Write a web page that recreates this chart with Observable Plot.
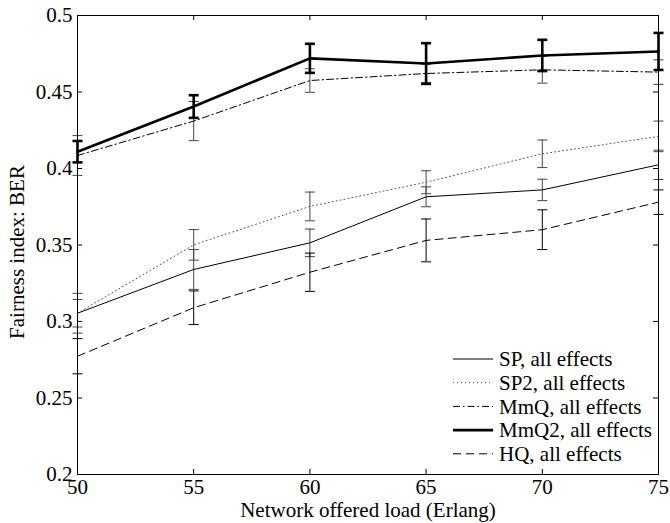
<!DOCTYPE html>
<html>
<head>
<meta charset="utf-8">
<script src="https://cdn.jsdelivr.net/npm/d3@7"></script>
<script src="https://cdn.jsdelivr.net/npm/@observablehq/plot@0.6"></script>
<style>
  html, body { margin: 0; padding: 0; background: #fff; }
  #chart { position: relative; width: 670px; height: 523px; background: #fff; }
  #legend { position: absolute; left: 0; top: 0; pointer-events: none; }
</style>
</head>
<body>
<div id="chart"></div>
<script>
// ---- data ----
const xLoad   = [50, 55, 60, 65, 70, 75];
const sp      = [0.3054, 0.3340, 0.3514, 0.3815, 0.3860, 0.4024];
const spErr   = [0.0130, 0.0130, 0.0090, 0.0065, 0.0070, 0.0096];
const sp2     = [0.3054, 0.3501, 0.3752, 0.3910, 0.4096, 0.4210];
const sp2Err  = [0.0090, 0.0100, 0.0094, 0.0075, 0.0090, 0.0100];
const mmq     = [0.4085, 0.4310, 0.4575, 0.4621, 0.4645, 0.4630];
const mmqErr  = [0.0130, 0.0128, 0.0077, 0.0060, 0.0087, 0.0080];
const mmq2    = [0.4110, 0.4405, 0.4720, 0.4686, 0.4739, 0.4765];
const mmq2Err = [0.0070, 0.0074, 0.0095, 0.0133, 0.0102, 0.0121];
const hq      = [0.2773, 0.3090, 0.3322, 0.3530, 0.3600, 0.3780];
const hqErr   = [0.0115, 0.0110, 0.0125, 0.0140, 0.0130, 0.0080];
const seriesNames = ["SP, all effects", "SP2, all effects", "MmQ, all effects", "MmQ2, all effects", "HQ, all effects"];
const xTicks = [50, 55, 60, 65, 70, 75];
const yTicks = [0.2, 0.25, 0.3, 0.35, 0.4, 0.45, 0.5];
const xLabel = "Network offered load (Erlang)";
const yLabel = "Fairness index: BER";

// ---- styles ----
const styles = [
  {stroke: "#000", width: 1,   dash: null,          errStroke: "#444", errWidth: 1},
  {stroke: "#555", width: 1,   dash: "1,3",         errStroke: "#444", errWidth: 1},
  {stroke: "#000", width: 1,   dash: "7,3,1.5,3",   errStroke: "#444", errWidth: 1},
  {stroke: "#000", width: 2.6, dash: null,          errStroke: "#000", errWidth: 2.6},
  {stroke: "#000", width: 1,   dash: "8,5",         errStroke: "#000", errWidth: 1}
];

const W = 670, H = 523;
const mL = 77, mR = 12, mT = 15, mB = 49;
const innerW = W - mL - mR, innerH = H - mT - mB;
const FONT = "'Liberation Serif', 'Times New Roman', Times, serif";
const FS = 21;

const values = [sp, sp2, mmq, mmq2, hq];
const errs = [spErr, sp2Err, mmqErr, mmq2Err, hqErr];
const series = seriesNames.map((name, k) =>
  xLoad.map((x, i) => ({x, y: values[k][i], lo: values[k][i] - errs[k][i], hi: values[k][i] + errs[k][i]}))
);

const capSymbol = {
  draw(ctx, size) {
    const w = Math.sqrt(size / Math.PI);
    ctx.moveTo(-w, 0);
    ctx.lineTo(w, 0);
  }
};

const marks = [];
series.forEach((rows, k) => {
  const s = styles[k];
  marks.push(Plot.ruleX(rows, {x: "x", y1: "lo", y2: "hi", stroke: s.errStroke, strokeWidth: s.errWidth}));
  marks.push(Plot.dot(rows, {x: "x", y: "lo", symbol: capSymbol, r: 5, fill: "none", stroke: s.errStroke, strokeWidth: s.errWidth}));
  marks.push(Plot.dot(rows, {x: "x", y: "hi", symbol: capSymbol, r: 5, fill: "none", stroke: s.errStroke, strokeWidth: s.errWidth}));
});
series.forEach((rows, k) => {
  const s = styles[k];
  marks.push(Plot.line(rows, {x: "x", y: "y", stroke: s.stroke, strokeWidth: s.width, strokeDasharray: s.dash || undefined}));
});

const innerXT = xTicks.slice(1, -1);
const innerYT = yTicks.slice(1, -1);

const plot = Plot.plot({
  width: W, height: H,
  marginLeft: mL, marginRight: mR, marginTop: mT, marginBottom: mB,
  style: {fontFamily: FONT, fontSize: FS + "px", background: "#fff", color: "#000"},
  x: {domain: [50, 75]},
  y: {domain: [0.2, 0.5]},
  marks: [
    // inward ticks (MATLAB style) on all four sides
    Plot.tickX(innerXT, {x: d => d, insetTop: innerH - 5, stroke: "#000"}),
    Plot.tickX(innerXT, {x: d => d, insetBottom: innerH - 5, stroke: "#000"}),
    Plot.tickY(innerYT, {y: d => d, insetRight: innerW - 5, stroke: "#000"}),
    Plot.tickY(innerYT, {y: d => d, insetLeft: innerW - 5, stroke: "#000"}),
    ...marks,
    Plot.frame({stroke: "#000", strokeWidth: 1}),
    Plot.axisX({ticks: xTicks, tickSize: 0, tickPadding: 5, label: null, fontSize: FS, tickFormat: d => String(d)}),
    Plot.axisY({ticks: yTicks, tickSize: 0, tickPadding: 5, label: null, fontSize: FS, tickFormat: d => String(d)}),
    Plot.text([xLabel], {text: d => d, frameAnchor: "bottom", lineAnchor: "middle", textAnchor: "middle", dy: 36, fontSize: FS, fill: "#000"}),
    Plot.text([yLabel], {text: d => d, frameAnchor: "left", lineAnchor: "middle", textAnchor: "middle", dx: -60, dy: 7, rotate: -90, fontSize: FS, fill: "#000"})
  ]
});

const chart = document.getElementById("chart");
chart.appendChild(plot);

// ---- legend inside the axes, lower right (no box) ----
const leg = d3.select(chart).append("svg")
  .attr("id", "legend").attr("width", W).attr("height", H);
const lx0 = 453, lx1 = 493, tx = 499, ly0 = 359, dyRow = 23.7;
seriesNames.forEach((name, k) => {
  const s = styles[k];
  const y = ly0 + k * dyRow;
  leg.append("line")
    .attr("x1", lx0).attr("x2", lx1).attr("y1", y).attr("y2", y)
    .attr("stroke", s.stroke).attr("stroke-width", s.width)
    .attr("stroke-dasharray", s.dash);
  leg.append("text")
    .attr("x", tx).attr("y", y).attr("dy", "0.35em")
    .attr("font-family", FONT).attr("font-size", FS).attr("fill", "#000")
    .text(name);
});
</script>
</body>
</html>
